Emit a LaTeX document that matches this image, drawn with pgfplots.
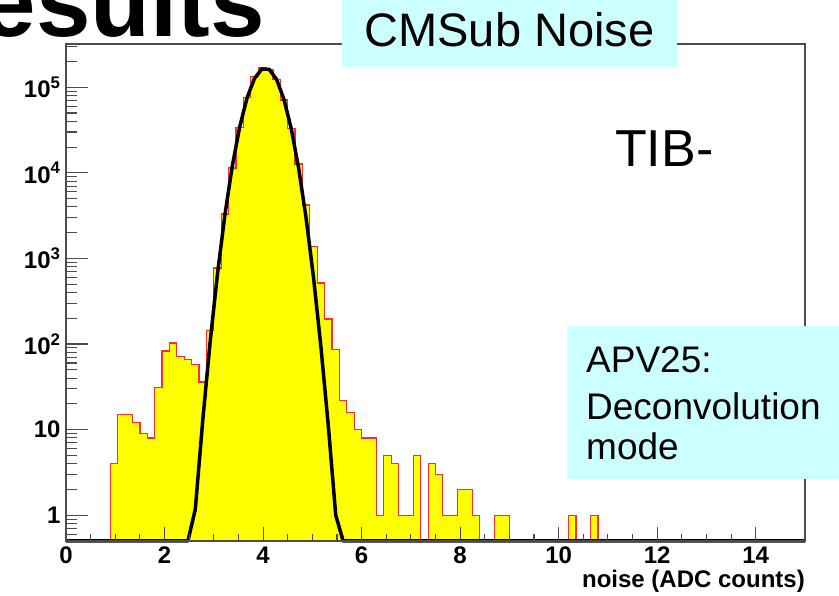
\documentclass[border=0pt]{standalone}
\usepackage{fontspec}
\setmainfont{Liberation Sans}
\usepackage{pgfplots}
\pgfplotsset{compat=1.18}
\definecolor{boxcyan}{HTML}{CCFFFF}
\definecolor{histred}{HTML}{FF2A2A}
\definecolor{histyellow}{HTML}{FFFF00}
\newcommand{\tickfont}{\fontsize{24}{24}\selectfont\bfseries}
\begin{document}
\begin{tikzpicture}[x=1pt,y=1pt]
\path[use as bounding box] (0,0) rectangle (839,596);
\begin{axis}[
  at={(66pt,55pt)}, anchor=south west,
  scale only axis, width=739pt, height=497pt,
  xmin=0, xmax=15, ymin=0.5, ymax=3.2e5,
  ymode=log,
  clip=false, axis on top,
  tick pos=left, tick align=inside,
  axis line style={line width=1.3pt, draw=black!70},
  every tick/.style={line width=1.1pt, draw=black!70},
  major tick length=22pt, minor tick length=11pt,
  xtick style={/pgfplots/major tick length=14pt, /pgfplots/minor tick length=7pt},
  xtick={0,2,4,6,8,10,12,14},
  xticklabels={0,2,4,6,8,10,12,14},
  minor x tick num=3,
  ytick={1,10,100,1000,10000,100000},
  yticklabels={1,10,10\textsuperscript{2},10\textsuperscript{3},10\textsuperscript{4},10\textsuperscript{5}},
  minor ytick={0.6,0.7,0.8,0.9,2,3,4,5,6,7,8,9,20,30,40,50,60,70,80,90,200,300,400,500,600,700,800,900,2000,3000,4000,5000,6000,7000,8000,9000,20000,30000,40000,50000,60000,70000,80000,90000,200000,300000},
  xticklabel style={font=\tickfont, yshift=-2pt},
  yticklabel style={font=\tickfont, xshift=-2pt},
]
\addplot[const plot, fill=histyellow, draw=histred, line width=1.2pt] coordinates {
(0.75,0.5) (0.9,4) (1.05,15) (1.2,15) (1.35,12) (1.5,9) (1.65,8) (1.8,31) (1.95,83) (2.1,103) (2.25,72) (2.4,66) (2.55,58) (2.7,36) (2.85,143) (3.0,773) (3.15,3300) (3.3,11400) (3.45,34000) (3.6,76000) (3.75,134000) (3.9,168000) (4.05,160000) (4.2,122000) (4.35,71000) (4.5,33000) (4.65,12700) (4.8,4200) (4.95,1380) (5.1,516) (5.25,196) (5.4,86) (5.55,22) (5.7,16) (5.85,10) (6.0,8) (6.15,8) (6.3,1) (6.45,5) (6.6,4) (6.75,1) (6.9,1) (7.05,5) (7.2,0.5) (7.35,4) (7.5,3) (7.65,1) (7.8,1) (7.95,2) (8.1,2) (8.25,1) (8.4,0.5) (8.7,1) (8.85,1) (9.0,0.5) (10.2,1) (10.35,0.5) (10.65,1) (10.8,0.5) (15,0.5)
} -- cycle;
\addplot[black, line width=3.5pt, line join=round] coordinates {
(0,0.5) (2.475,0.5) (2.625,1.18) (2.775,12.7) (2.925,105) (3.075,662) (3.225,3217) (3.375,11978) (3.525,34240) (3.675,75096) (3.825,126370) (3.975,163230) (4.125,161780) (4.275,123080) (4.425,71850) (4.575,32190) (4.725,11068) (4.875,2921) (5.025,591) (5.175,91.9) (5.325,10.95) (5.475,1.0) (5.625,0.5) (15,0.5)
};
\end{axis}
% slide title fragment
\node[anchor=base east, inner sep=0pt, font=\fontsize{98}{100}\selectfont\bfseries] at (265,559) {Results};
% CMSub Noise box
\fill[boxcyan] (342,529) rectangle (677,600);
\node[anchor=base, inner sep=0pt, font=\fontsize{47}{56}\selectfont] at (509.5,549.3) {CMSub Noise};
% TIB-
\node[anchor=base west, inner sep=0pt, font=\fontsize{52}{60}\selectfont] at (615,429) {TIB-};
% APV25 box
\fill[boxcyan] (567,117) rectangle (845,270);
\node[anchor=base west, inner sep=0pt, font=\fontsize{37}{44}\selectfont] at (586,223) {APV25:};
\node[anchor=base west, inner sep=0pt, font=\fontsize{37}{44}\selectfont] at (586,176) {Deconvolution};
\node[anchor=base west, inner sep=0pt, font=\fontsize{37}{44}\selectfont] at (586,136) {mode};
% axis title
\node[anchor=base east, inner sep=0pt, font=\fontsize{24}{28}\selectfont\bfseries] at (805,8) {noise (ADC counts)};
\end{tikzpicture}
\end{document}
